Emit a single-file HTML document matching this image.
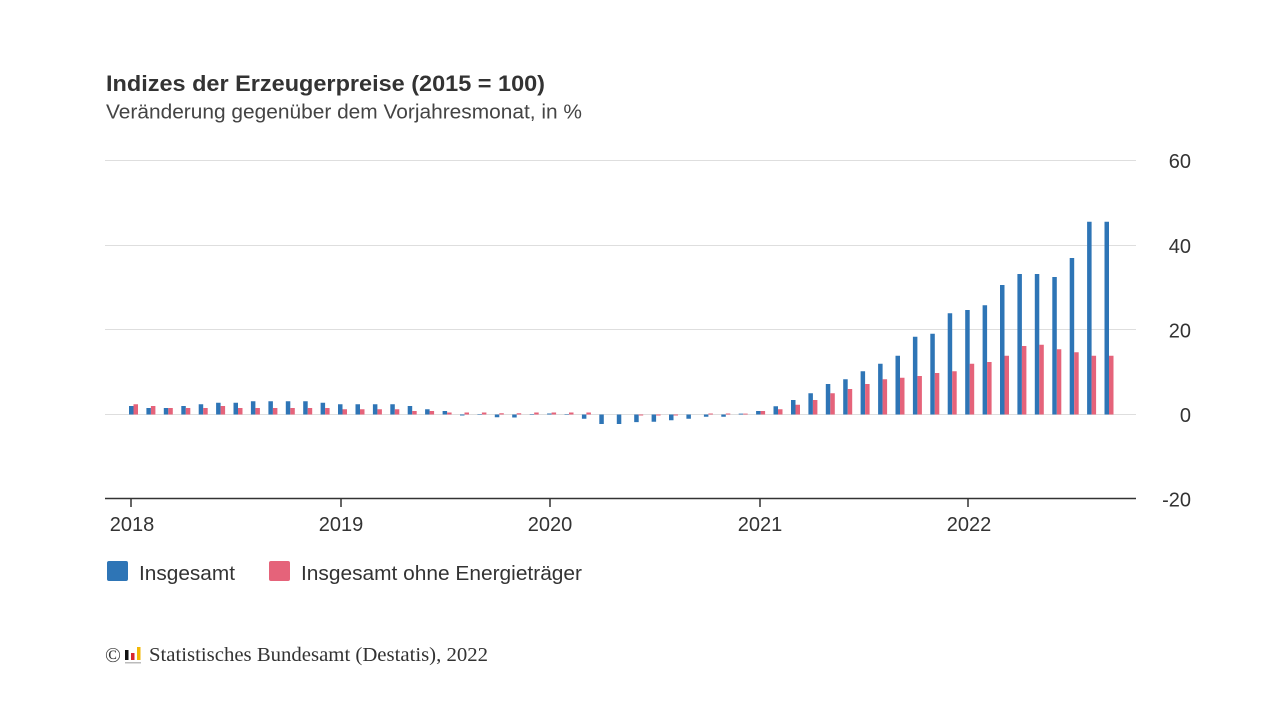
<!DOCTYPE html>
<html>
<head>
<meta charset="utf-8">
<style>
html,body{margin:0;padding:0;background:#fff}
body{width:1280px;height:728px;overflow:hidden}
svg{display:block}
.sans{font-family:"Liberation Sans",Arial,sans-serif}
.serif{font-family:"Liberation Serif","Times New Roman",serif}
</style>
</head>
<body>
<svg width="1280" height="728" viewBox="0 0 1280 728" xmlns="http://www.w3.org/2000/svg">
<rect width="1280" height="728" fill="#fff"/>
<text class="sans" x="106" y="91" font-size="22" font-weight="bold" fill="#333" textLength="439" lengthAdjust="spacingAndGlyphs">Indizes der Erzeugerpreise (2015 = 100)</text>
<text class="sans" x="106" y="118.5" font-size="20.5" fill="#444" textLength="476" lengthAdjust="spacingAndGlyphs">Veränderung gegenüber dem Vorjahresmonat, in %</text>
<path d="M105 160.5H1136M105 245.5H1136M105 329.5H1136M105 414.5H1136" stroke="#dedede" stroke-width="1" fill="none"/>
<g class="sans" font-size="20" fill="#333" text-anchor="end">
<text x="1191" y="168">60</text><text x="1191" y="253">40</text><text x="1191" y="337.5">20</text><text x="1191" y="422">0</text><text x="1191" y="506.5">-20</text>
</g>
<path fill="#2e75b6" d="M129,406h4.5V414.5h-4.5zM146.4,408h4.5V414.5h-4.5zM163.8,408h4.5V414.5h-4.5zM181.3,406h4.5V414.5h-4.5zM198.7,404.3h4.5V414.5h-4.5zM216.1,402.7h4.5V414.5h-4.5zM233.5,402.7h4.5V414.5h-4.5zM250.9,401.3h4.5V414.5h-4.5zM268.4,401.3h4.5V414.5h-4.5zM285.8,401.3h4.5V414.5h-4.5zM303.2,401.3h4.5V414.5h-4.5zM320.6,402.7h4.5V414.5h-4.5zM338,404.3h4.5V414.5h-4.5zM355.5,404.3h4.5V414.5h-4.5zM372.9,404.3h4.5V414.5h-4.5zM390.3,404.3h4.5V414.5h-4.5zM407.7,406h4.5V414.5h-4.5zM425.1,409.3h4.5V414.5h-4.5zM442.6,411h4.5V414.5h-4.5zM460,414.5h4.5V415.5h-4.5zM477.4,414.5h4.5V415h-4.5zM494.8,414.5h4.5V417.2h-4.5zM512.2,414.5h4.5V417.5h-4.5zM529.7,414h4.5V414.5h-4.5zM547.1,413.5h4.5V414.5h-4.5zM564.5,414.5h4.5V415h-4.5zM581.9,414.5h4.5V418.8h-4.5zM599.3,414.5h4.5V424h-4.5zM616.8,414.5h4.5V424h-4.5zM634.2,414.5h4.5V422.1h-4.5zM651.6,414.5h4.5V421.8h-4.5zM669,414.5h4.5V420.3h-4.5zM686.4,414.5h4.5V418.8h-4.5zM703.9,414.5h4.5V416.7h-4.5zM721.3,414.5h4.5V416.7h-4.5zM738.7,413.6h4.5V414.5h-4.5zM756.1,411h4.5V414.5h-4.5zM773.5,406.3h4.5V414.5h-4.5zM791,400h4.5V414.5h-4.5zM808.4,393.3h4.5V414.5h-4.5zM825.8,384h4.5V414.5h-4.5zM843.2,379.3h4.5V414.5h-4.5zM860.6,371.3h4.5V414.5h-4.5zM878.1,363.7h4.5V414.5h-4.5zM895.5,355.7h4.5V414.5h-4.5zM912.9,336.7h4.5V414.5h-4.5zM930.3,333.7h4.5V414.5h-4.5zM947.7,313.3h4.5V414.5h-4.5zM965.2,310h4.5V414.5h-4.5zM982.6,305.3h4.5V414.5h-4.5zM1000,285h4.5V414.5h-4.5zM1017.4,274h4.5V414.5h-4.5zM1034.8,274h4.5V414.5h-4.5zM1052.3,277h4.5V414.5h-4.5zM1069.7,258h4.5V414.5h-4.5zM1087.1,221.7h4.5V414.5h-4.5zM1104.5,221.7h4.5V414.5h-4.5z"/>
<path fill="#e5637a" d="M133.5,404.3h4.5V414.5h-4.5zM150.9,406h4.5V414.5h-4.5zM168.3,408h4.5V414.5h-4.5zM185.8,408h4.5V414.5h-4.5zM203.2,408h4.5V414.5h-4.5zM220.6,406h4.5V414.5h-4.5zM238,408h4.5V414.5h-4.5zM255.4,408h4.5V414.5h-4.5zM272.9,408h4.5V414.5h-4.5zM290.3,408h4.5V414.5h-4.5zM307.7,408h4.5V414.5h-4.5zM325.1,408h4.5V414.5h-4.5zM342.5,409.3h4.5V414.5h-4.5zM360,409.3h4.5V414.5h-4.5zM377.4,409.3h4.5V414.5h-4.5zM394.8,409.3h4.5V414.5h-4.5zM412.2,411h4.5V414.5h-4.5zM429.6,411h4.5V414.5h-4.5zM447.1,412.5h4.5V414.5h-4.5zM464.5,412.5h4.5V414.5h-4.5zM481.9,412.5h4.5V414.5h-4.5zM499.3,413.3h4.5V414.5h-4.5zM516.7,413.3h4.5V414.5h-4.5zM534.2,412.5h4.5V414.5h-4.5zM551.6,412.5h4.5V414.5h-4.5zM569,412.5h4.5V414.5h-4.5zM586.4,412.5h4.5V414.5h-4.5zM638.7,414.5h4.5V415.5h-4.5zM656.1,414.5h4.5V415.5h-4.5zM673.5,414.5h4.5V415.5h-4.5zM708.4,413.5h4.5V414.5h-4.5zM725.8,413.5h4.5V414.5h-4.5zM743.2,413.6h4.5V414.5h-4.5zM760.6,411h4.5V414.5h-4.5zM778,409.3h4.5V414.5h-4.5zM795.5,404.7h4.5V414.5h-4.5zM812.9,400h4.5V414.5h-4.5zM830.3,393.3h4.5V414.5h-4.5zM847.7,389h4.5V414.5h-4.5zM865.1,384h4.5V414.5h-4.5zM882.6,379.3h4.5V414.5h-4.5zM900,377.7h4.5V414.5h-4.5zM917.4,376h4.5V414.5h-4.5zM934.8,373h4.5V414.5h-4.5zM952.2,371.3h4.5V414.5h-4.5zM969.7,363.7h4.5V414.5h-4.5zM987.1,362h4.5V414.5h-4.5zM1004.5,355.7h4.5V414.5h-4.5zM1021.9,346h4.5V414.5h-4.5zM1039.3,344.7h4.5V414.5h-4.5zM1056.8,349.3h4.5V414.5h-4.5zM1074.2,352.3h4.5V414.5h-4.5zM1091.6,355.7h4.5V414.5h-4.5zM1109,355.7h4.5V414.5h-4.5z"/>
<path d="M105 498.5H1136" stroke="#333" stroke-width="1.6"/>
<path d="M131 498.5V507M341 498.5V507M550 498.5V507M760 498.5V507M968 498.5V507" stroke="#333" stroke-width="1.5"/>
<g class="sans" font-size="20" fill="#333" text-anchor="middle">
<text x="132" y="531">2018</text><text x="341" y="531">2019</text><text x="550" y="531">2020</text><text x="760" y="531">2021</text><text x="969" y="531">2022</text>
</g>
<rect x="107" y="561" width="21" height="20" rx="2" fill="#2e75b6"/>
<text class="sans" x="139" y="580" font-size="20.5" fill="#333" textLength="96" lengthAdjust="spacingAndGlyphs">Insgesamt</text>
<rect x="269" y="561" width="21" height="20" rx="2" fill="#e5637a"/>
<text class="sans" x="301" y="580" font-size="20.5" fill="#333" textLength="281" lengthAdjust="spacingAndGlyphs">Insgesamt ohne Energieträger</text>
<text class="serif" x="105" y="662" font-size="21" fill="#333">©</text>
<path fill="#111" d="M125,650h3.5v10h-3.5z"/>
<path fill="#d8262f" d="M131,653h3.5v7h-3.5z"/>
<path fill="#f2b705" d="M137,647h3.5v13h-3.5z"/>
<path fill="#bbb" d="M125,662h16v1.5h-16z"/>
<text class="serif" x="149" y="661" font-size="20" fill="#333" textLength="339" lengthAdjust="spacingAndGlyphs">Statistisches Bundesamt (Destatis), 2022</text>
</svg>
</body>
</html>
